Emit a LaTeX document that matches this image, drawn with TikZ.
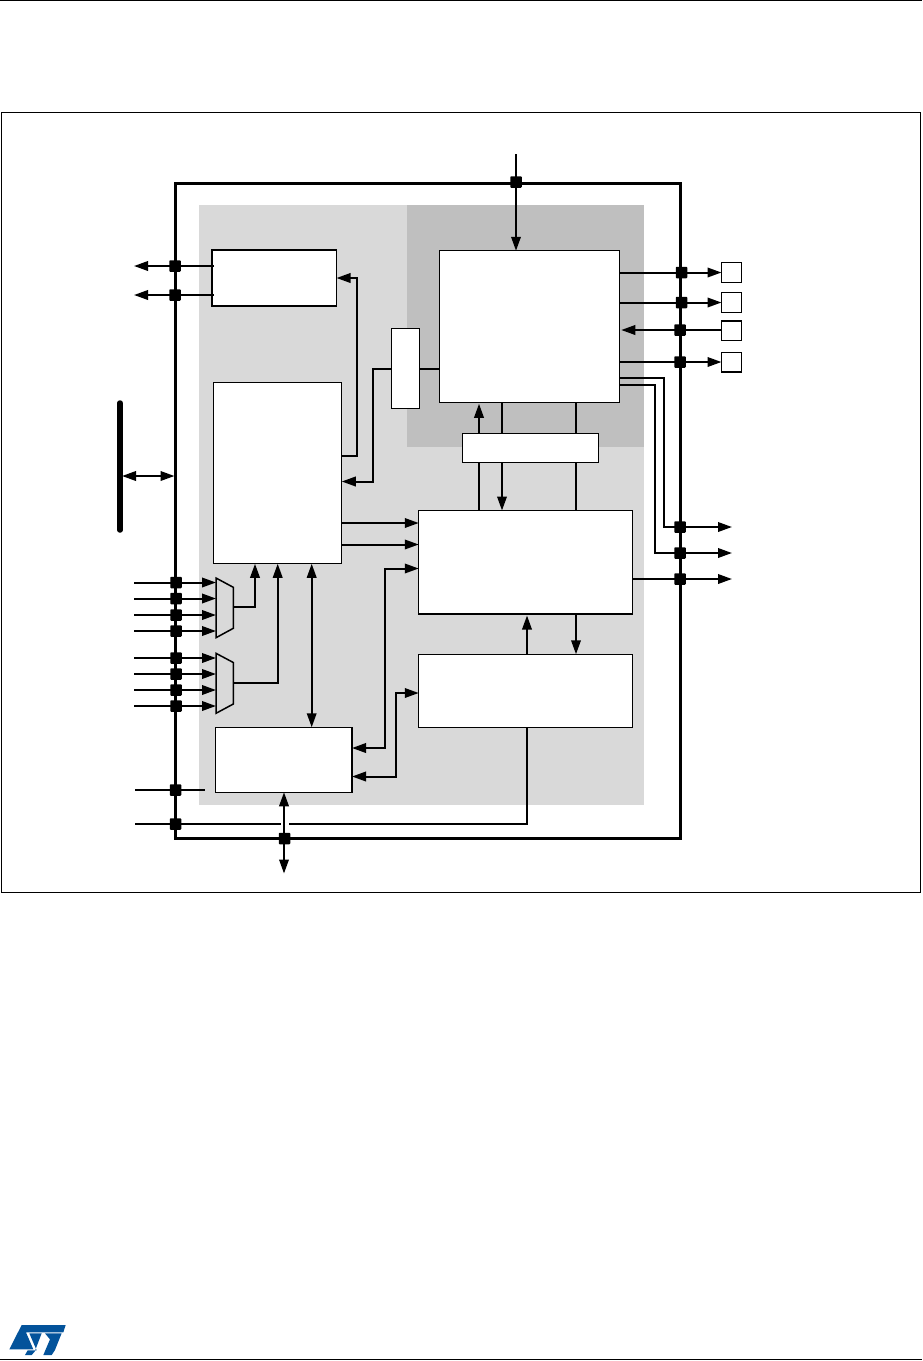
\documentclass[tikz,border=0pt]{standalone}
\usetikzlibrary{arrows.meta}
\definecolor{stblue}{HTML}{03539B}
\tikzset{
  blk/.style = {draw=black, fill=white, inner sep=0pt, outer sep=0pt, line width=1.3pt},
  chip/.style = {draw=black, inner sep=0pt, outer sep=0pt, line width=3pt},
  pin/.style = {fill=black, inner sep=0pt, minimum size=11.5pt, rounded corners=0.8pt},
  mux/.style = {draw=black, fill=black!15, line width=1.5pt},
  wr/.style = {line width=2pt},
  ar/.style = {wr, -{Triangle[length=14pt, width=9.5pt]}},
  bi/.style = {wr, {Triangle[length=14pt, width=9.5pt]}-{Triangle[length=14pt, width=9.5pt]}}
}

\begin{document}
\begin{tikzpicture}[x=1pt, y=-1pt]
  \useasboundingbox (0,0) rectangle (922,1361);
  \draw [line width=1.2pt] (0,0.5) -- (922,0.5);
  \draw [line width=1.2pt] (0,1359.5) -- (922,1359.5);
  \draw [line width=1.2pt] (1.5,112.5) rectangle (920.5,892.5);
  \fill [black!15] (199,205) rectangle (644,805);
  \fill [black!25] (407,205) rectangle (644,447);
  \node [chip, minimum width=504.5pt, minimum height=655pt] (chip) at (427.75,510.5) {};

  % blocks
  \node [blk, minimum width=124.5pt, minimum height=56pt] (ba) at (274.25,278) {};
  \node [blk, minimum width=128.5pt, minimum height=181.5pt] (bb) at (277.5,473) {};
  \node [blk, minimum width=28.5pt, minimum height=79.5pt] (bc) at (405.5,368.5) {};
  \node [blk, minimum width=180.5pt, minimum height=151.5pt] (bd) at (529.5,326.5) {};
  \node [blk, minimum width=136.5pt, minimum height=29pt] (be) at (530.5,447.75) {};
  \node [blk, minimum width=213.5pt, minimum height=103.5pt] (bf) at (525.5,562.25) {};
  \node [blk, minimum width=213.5pt, minimum height=73pt] (bg) at (525.5,690.75) {};
  \node [blk, minimum width=136.5pt, minimum height=65pt] (bh) at (283.75,759.75) {};
  \foreach \y [count=\i] in {272.5,302.5,330.75,362.25}
    \node [blk, minimum width=20pt, minimum height=19.5pt] (sq\i) at (731.5,\y) {};

  % bus on the left
  \draw [line width=5.5pt, line cap=round] (120,403) coordinate (busa) -- (120,530) coordinate (busb);
  \coordinate (busc) at (120,476);
  \draw [bi, shorten <=2pt, shorten >=1pt] (busc) -- (chip.west |- busc);

  % top and right pins
  \coordinate (topin) at (516,154);
  \node [pin] (pt) at (516,182) {};
  \draw [ar] (topin) -- (bd.north -| topin);
  \foreach \x/\y [count=\i] in {681.5/272.5, 681.5/302.5, 680/330, 680/362} 
    \node [pin] (pr\i) at (\x,\y) {};
  \draw [ar] (bd.east |- pr1) -- (sq1.west |- pr1);
  \draw [ar] (bd.east |- pr2) -- (sq2.west |- pr2);
  \draw [ar, shorten >=1.5pt] (sq3.west |- pr3) -- (bd.east |- pr3);
  \draw [ar] (bd.east |- pr4) -- (sq4.west |- pr4);

  \foreach \y [count=\i] in {527,553,579} {
    \node [pin] (po\i) at (680,\y) {};
    \coordinate (ou\i) at (732,\y);
  }
  \coordinate (dra) at (664,378);
  \coordinate (drb) at (655,385);
  \draw [ar] (bd.east |- dra) -- (dra) |- (ou1);
  \draw [ar] (bd.east |- drb) -- (drb) |- (ou2);
  \draw [ar] (bf.east |- ou3) -- (ou3);

  % left output pins
  \foreach \y [count=\i] in {266,295} {
    \node [pin] (pl\i) at (175,\y) {};
    \coordinate (lo\i) at (134,\y);
    \draw [ar, shorten <=-2pt] (ba.west |- pl\i) -- (lo\i);
  }

  % block links
  \coordinate (rba) at (357,455.5);
  \draw [ar] (bb.east |- rba) -- (rba) |- (ba.east);
  \coordinate (rbc) at (373,481.5);
  \draw [ar] (bc.west) -| (rbc) -- (bb.east |- rbc);
  \draw [wr] (bc.east) -- (bd.west |- bc.east);
  \coordinate (xa) at (479,0);
  \coordinate (xb) at (502,0);
  \coordinate (xc) at (576,0);
  \draw [ar, shorten >=1.5pt] (be.north -| xa) -- (bd.south -| xa);
  \draw [wr] (bd.south -| xb) -- (be.north -| xb);
  \draw [wr] (bd.south -| xc) -- (be.north -| xc);
  \draw [wr] (be.south -| xa) -- (bf.north -| xa);
  \draw [ar] (be.south -| xb) -- (bf.north -| xb);
  \draw [wr] (be.south -| xc) -- (bf.north -| xc);
  \foreach \y in {523,544.5}
    \draw [ar] (bb.east |- 0,\y) -- (bf.west |- 0,\y);
  \coordinate (rha) at (385,748);
  \coordinate (rfa) at (385,568.5);
  \draw [bi] (bh.east |- rha) -- (rha) -- (rfa) -- (bf.west |- rfa);
  \coordinate (rhb) at (396,776.5);
  \coordinate (rgb) at (396,693);
  \draw [bi] (bh.east |- rhb) -- (rhb) -- (rgb) -- (bg.west |- rgb);
  \coordinate (xd) at (527,0);
  \draw [ar, shorten >=1.5pt] (bg.north -| xd) -- (bf.south -| xd);
  \draw [ar] (bf.south -| xc) -- (bg.north -| xc);
  \coordinate (xe) at (311.7,0);
  \draw [bi] (bb.south -| xe) -- (bh.north -| xe);

  % muxes and their inputs
  \draw [mux] (216,578) coordinate (mainw) -- (233.3,587.3) -- (233.3,628.3) -- (216,637.7) -- cycle;
  \draw [mux] (216,653.3) coordinate (mbnw) -- (233.3,662.5) -- (233.3,704) -- (216,713.3) -- cycle;
  \coordinate (ma) at (233.3,607);
  \coordinate (mb) at (233.3,682.7);
  \foreach \y [count=\i] in {582.5,598.5,615,631} {
    \node [pin] (pa\i) at (176,\y) {};
    \coordinate (ia\i) at (134,\y);
    \draw [ar] (ia\i) -- (mainw |- pa\i);
  }
  \foreach \y [count=\i] in {658,674,690,706} {
    \node [pin] (pb\i) at (176,\y) {};
    \coordinate (ib\i) at (134,\y);
    \draw [ar] (ib\i) -- (mbnw |- pb\i);
  }
  \coordinate (xf) at (255,0);
  \coordinate (xg) at (277.7,0);
  \draw [ar] (ma) -| (bb.south -| xf);
  \draw [ar] (mb) -| (bb.south -| xg);

  % bottom pins
  \node [pin] (pc) at (175.5,790) {};
  \node [pin] (pd) at (175.5,824) {};
  \node [pin] (pe) at (284.5,838.5) {};
  \coordinate (ic) at (135,790);
  \coordinate (ie) at (205,790);
  \draw [wr] (ic) -- (ie);
  \coordinate (id) at (135,824);
  \coordinate (gapa) at (281,824);
  \coordinate (gapb) at (289,824);
  \coordinate (rg) at (527,824);
  \draw [wr] (id) -- (gapa);
  \draw [wr] (gapb) -- (rg) -- (bg.south -| rg);
  \coordinate (of) at (284,873.5);
  \draw [bi] (bh.south -| of) -- (of);

  % logo
  \begin{scope}[shift={(0,1300)}, x=0.3333pt, y=-0.3333pt]
    \fill [stblue] (65,75) -- (197,75) -- (190,97) -- (78,97) -- (100,148) -- (28,148) -- cycle;
    \fill [stblue] (88,100) -- (125,100) -- (104,155) -- (95,165) -- (75,165) -- (83,151) -- (110,151) -- cycle;
    \fill [stblue] (135,100) -- (185,100) -- (165,150) -- (155,165) -- (130,165) -- (150,118) -- cycle;
  \end{scope}
\end{tikzpicture}
\end{document}
